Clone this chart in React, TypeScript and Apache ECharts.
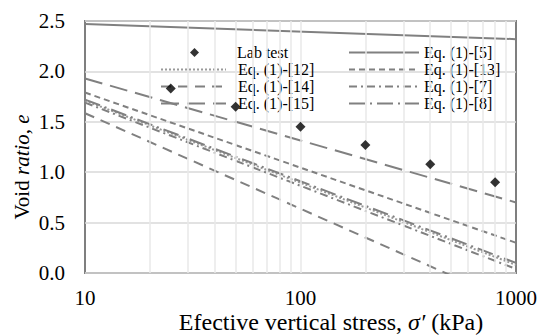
import React, { useEffect, useRef } from 'react';
import * as echarts from 'echarts';

const stressEnds = [10, 1000];
const labStress = [25, 50, 100, 200, 400, 800];
const labVoid = [1.83, 1.65, 1.45, 1.27, 1.08, 0.9];
const eq5 = [2.47, 2.32];
const eq12 = [1.71, 0.08];
const eq13 = [1.79, 0.3];
const eq14 = [1.585, -0.31];
const eq7 = [1.69, 0.04];
const eq15 = [1.93, 0.7];
const eq8 = [1.72, 0.1];
const verticalGrid = [20, 30, 40, 50, 60, 70, 80, 90, 100, 200, 300, 400, 500, 600, 700, 800, 900];
const legendLab = ['Lab test'];
const legendCol1 = ['Eq. (1)-[12]', 'Eq. (1)-[14]', 'Eq. (1)-[15]'];
const legendCol2 = ['Eq. (1)-[5]', 'Eq. (1)-[13]', 'Eq. (1)-[7]', 'Eq. (1)-[8]'];

const FONT = 'Liberation Serif';
const GRAY = '#808080';

function pairs(ys: number[]) {
  return stressEnds.map((x, i) => [x, ys[i]]);
}

function lineSeries(name: string, ys: number[], type: any, color = GRAY, width = 2) {
  return {
    name,
    type: 'line',
    data: pairs(ys),
    symbol: 'none',
    showSymbol: false,
    clip: true,
    z: 3,
    lineStyle: { color, width, type, cap: 'butt' },
    itemStyle: { color },
  };
}

export default function App() {
  const ref = useRef<HTMLDivElement>(null);
  useEffect(() => {
    if (!ref.current) return;
    const chart = echarts.init(ref.current, null, { renderer: 'svg' });
    const legendText = { fontFamily: FONT, fontSize: 16, color: '#000', lineHeight: 17 };
    const lineLegend = (left: number, top: number, width: number, names: string[], padLeft: number) => ({
      orient: 'vertical',
      left,
      top,
      padding: 0,
      itemWidth: width,
      itemHeight: 9,
      itemGap: 0,
      selectedMode: false,
      textStyle: { ...legendText, padding: [0, 0, 0, padLeft] },
      data: names.map((n) => ({ name: n, itemStyle: { opacity: 0 } })),
    });
    chart.setOption({
      animation: false,
      textStyle: { fontFamily: FONT },
      grid: {
        left: 85,
        right: 27,
        top: 21,
        bottom: 62,
        show: true,
        borderColor: '#7f7f7f',
        borderWidth: 2,
        backgroundColor: 'transparent',
      },
      xAxis: {
        type: 'log',
        logBase: 10,
        min: 10,
        max: 1000,
        axisLine: { show: false },
        axisTick: { show: false },
        splitLine: { show: false },
        axisLabel: {
          fontFamily: FONT,
          fontSize: 21,
          color: '#000',
          margin: 14,
          formatter: (v: number) => String(Math.round(v)),
        },
      },
      yAxis: {
        type: 'value',
        min: 0,
        max: 2.5,
        interval: 0.5,
        axisLine: { show: false },
        axisTick: { show: false },
        splitLine: { show: true, lineStyle: { color: '#d9d9d9', width: 1.5 } },
        axisLabel: {
          fontFamily: FONT,
          fontSize: 21,
          color: '#000',
          margin: 20,
          formatter: (v: number) => v.toFixed(1),
        },
      },
      legend: [
        {
          orient: 'vertical',
          left: 190,
          top: 44,
          padding: 0,
          itemWidth: 9,
          itemHeight: 9,
          selectedMode: false,
          textStyle: { ...legendText, padding: [0, 0, 0, 33] },
          data: legendLab.map((n) => ({ name: n, icon: 'diamond', itemStyle: { color: '#000' } })),
        },
        lineLegend(160, 61, 65, legendCol1, 7),
        lineLegend(348, 44, 70, legendCol2, 0),
      ],
      graphic: [
        {
          type: 'text',
          x: 331,
          y: 322,
          style: {
            text: '{n|Efective vertical stress, }{i|σ′}{n| (kPa)}',
            align: 'center',
            verticalAlign: 'middle',
            rich: {
              n: { fontFamily: FONT, fontSize: 24, fill: '#000' },
              i: { fontFamily: FONT, fontSize: 24, fontStyle: 'italic', fill: '#000' },
            },
          },
        },
        {
          type: 'text',
          x: 22,
          y: 167,
          rotation: Math.PI / 2,
          style: {
            text: '{n|Void }{i|ratio}{n|, }{i|e}',
            align: 'center',
            verticalAlign: 'middle',
            rich: {
              n: { fontFamily: FONT, fontSize: 21, fill: '#000' },
              i: { fontFamily: FONT, fontSize: 21, fontStyle: 'italic', fill: '#000' },
            },
          },
        },
      ],
      series: [
        {
          name: 'grid-vertical',
          type: 'line',
          data: [],
          z: 1,
          silent: true,
          markLine: {
            silent: true,
            symbol: ['none', 'none'],
            label: { show: false },
            animation: false,
            lineStyle: { color: '#e8e8e8', type: 'solid', width: 1.5 },
            data: verticalGrid.map((v) => ({ xAxis: v })),
          },
        },
        lineSeries('Eq. (1)-[5]', eq5, 'solid'),
        lineSeries('Eq. (1)-[12]', eq12, [2, 2], '#999999', 2),
        lineSeries('Eq. (1)-[13]', eq13, [6, 4]),
        lineSeries('Eq. (1)-[14]', eq14, [10, 7]),
        lineSeries('Eq. (1)-[7]', eq7, [8, 4, 2, 4]),
        lineSeries('Eq. (1)-[15]', eq15, [18, 8]),
        lineSeries('Eq. (1)-[8]', eq8, [16, 5, 2, 5]),
        {
          name: 'Lab test',
          type: 'scatter',
          data: labStress.map((x, i) => [x, labVoid[i]]),
          symbol: 'diamond',
          symbolSize: 10,
          z: 5,
          itemStyle: { color: '#000' },
        },
      ],
    });
    return () => chart.dispose();
  }, []);
  return <div ref={ref} style={{ width: 543, height: 335, position: 'absolute', left: 0, top: 0 }} />;
}
